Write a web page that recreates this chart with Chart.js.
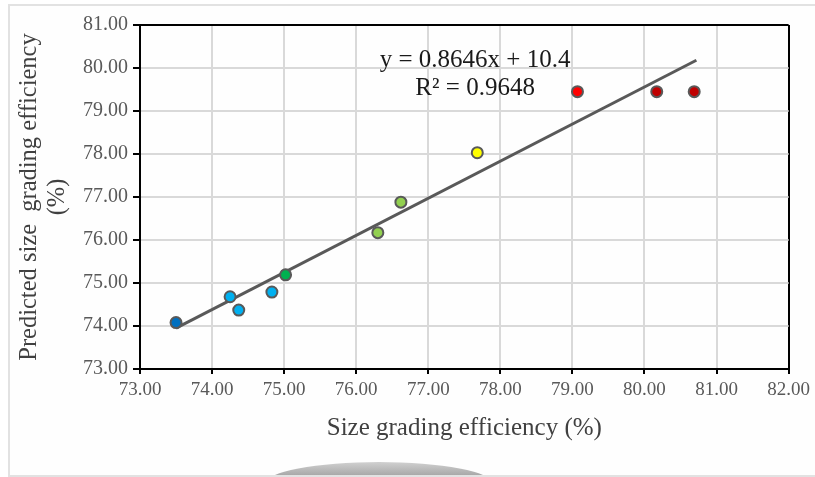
<!DOCTYPE html>
<html>
<head>
<meta charset="utf-8">
<script src="https://cdn.jsdelivr.net/npm/chart.js@4"></script>
<style>
  html, body { margin: 0; padding: 0; background: #ffffff; }
  #wrap { position: relative; width: 815px; height: 477px; overflow: hidden; background: #ffffff; }
  #frame { position: absolute; left: 8px; top: 4px; width: 820px; height: 469px; border: 2px solid #e2e2e2; background: #fefefe; overflow: hidden; }
  #arc { position: absolute; left: 255px; top: 456px; width: 228px; height: 44px; border-radius: 50%;
         background: linear-gradient(#d0d0d0, #a2a2a2 35%, #a8a8a8); }
  #c { position: absolute; left: 0; top: 0; }
</style>
</head>
<body>
<div id="wrap">
  <div id="frame"><div id="arc"></div></div>
  <canvas id="c" width="815" height="477"></canvas>
</div>
<script>
const sizeGradingEfficiency = [73.50, 74.25, 74.37, 74.83, 75.02, 76.30, 76.62, 77.68, 79.07, 80.17, 80.69];
const predictedEfficiency   = [74.08, 74.68, 74.37, 74.79, 75.19, 76.17, 76.88, 78.03, 79.45, 79.45, 79.45];
// Trendline end points
const trendX = [73.50, 80.72];
const trendY = [73.95, 80.18];
const xTicks = [73, 74, 75, 76, 77, 78, 79, 80, 81, 82];
const yTicks = [73, 74, 75, 76, 77, 78, 79, 80, 81];
const equationText = 'y = 0.8646x + 10.4';
const r2Text = 'R² = 0.9648';

const pointColors = ['#0070C0', '#00B0F0', '#00B0F0', '#00B0F0', '#00B050', '#92D050', '#92D050', '#FFFF00', '#FF0000', '#C00000', '#C00000'];

const points = sizeGradingEfficiency.map((x, i) => ({ x: x, y: predictedEfficiency[i] }));
const trend = trendX.map((x, i) => ({ x: x, y: trendY[i] }));

const FONT = "'Liberation Serif', 'Times New Roman', serif";

const equationPlugin = {
  id: 'equation',
  afterDatasetsDraw(chart) {
    const ctx = chart.ctx;
    const xs = chart.scales.x, ys = chart.scales.y;
    ctx.save();
    ctx.font = '25px ' + FONT;
    ctx.fillStyle = '#1a1a1a';
    ctx.textAlign = 'center';
    ctx.textBaseline = 'middle';
    const cx = xs.getPixelForValue(77.65);
    ctx.fillText(equationText, cx, ys.getPixelForValue(80.18));
    ctx.fillText(r2Text, cx, ys.getPixelForValue(79.52));
    ctx.restore();
  }
};

const isEdge = (ctx, minV, maxV) => ctx.tick && (ctx.tick.value === maxV || ctx.tick.value === minV);

new Chart(document.getElementById('c'), {
  type: 'scatter',
  data: {
    datasets: [
      {
        type: 'line',
        data: trend,
        borderColor: '#595959',
        borderWidth: 3,
        pointRadius: 0,
        fill: false,
        order: 2
      },
      {
        data: points,
        backgroundColor: pointColors,
        borderColor: '#595959',
        borderWidth: 2,
        pointRadius: 5.5,
        order: 1
      }
    ]
  },
  plugins: [equationPlugin],
  options: {
    responsive: false,
    animation: false,
    devicePixelRatio: 1,
    layout: { padding: { left: 0, top: 25, right: 26, bottom: 0 } },
    plugins: { legend: { display: false }, tooltip: { enabled: false } },
    scales: {
      x: {
        type: 'linear',
        min: 73, max: 82,
        afterBuildTicks: (s) => { s.ticks = xTicks.map(v => ({ value: v })); },
        afterFit: (s) => { s.height = 108; },
        border: { color: '#000000', width: 2 },
        grid: {
          color: (c) => isEdge(c, 73, 82) ? '#000000' : '#d9d9d9',
          lineWidth: (c) => isEdge(c, 73, 82) ? 2 : 2,
          tickColor: '#000000',
          tickLength: 5,
          tickWidth: 2
        },
        ticks: {
          font: { family: FONT, size: 19 },
          color: '#595959',
          padding: 5,
          maxRotation: 0,
          callback: (v) => Number(v).toFixed(2)
        },
        title: {
          display: true,
          text: 'Size grading efficiency (%)',
          font: { family: FONT, size: 25 },
          color: '#404040',
          padding: { top: 0, bottom: 34 }
        }
      },
      y: {
        type: 'linear',
        min: 73, max: 81,
        afterBuildTicks: (s) => { s.ticks = yTicks.map(v => ({ value: v })); },
        afterFit: (s) => { s.width = 140; },
        border: { color: '#000000', width: 2 },
        grid: {
          color: (c) => isEdge(c, 73, 81) ? '#000000' : '#d9d9d9',
          lineWidth: 2,
          tickColor: '#000000',
          tickLength: 7,
          tickWidth: 2
        },
        ticks: {
          font: { family: FONT, size: 20 },
          color: '#595959',
          padding: 5,
          callback: (v) => Number(v).toFixed(2)
        },
        title: {
          display: true,
          text: ['Predicted size  grading efficiency', '(%)'],
          font: { family: FONT, size: 24.5, lineHeight: 1.12 },
          color: '#404040',
          padding: { top: 16, bottom: 0 }
        }
      }
    }
  }
});
</script>
</body>
</html>
